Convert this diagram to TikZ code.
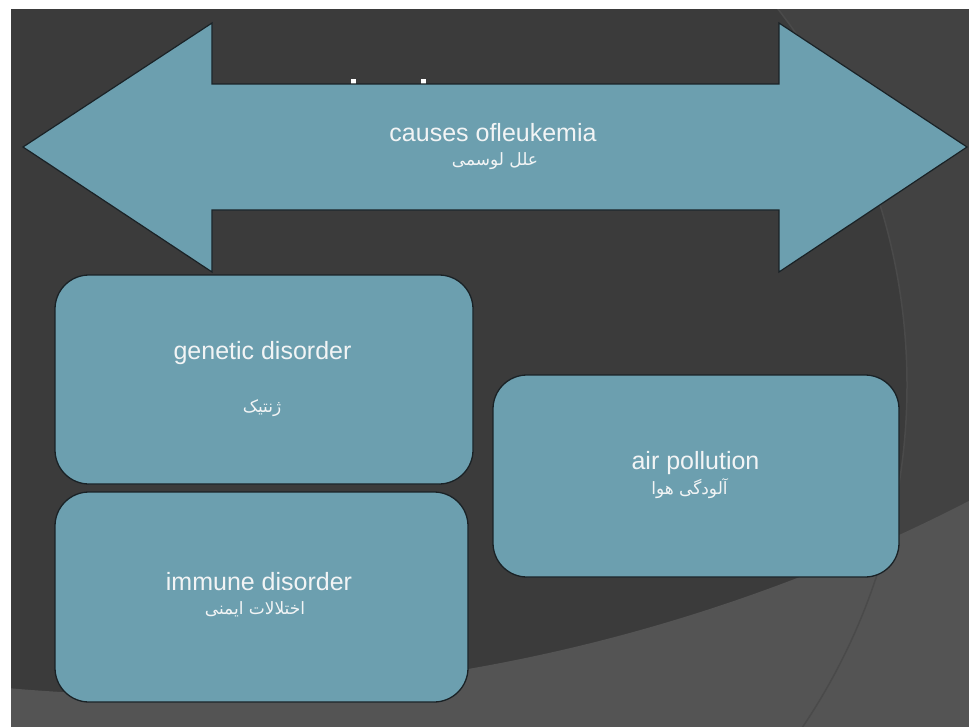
\documentclass[tikz,border=0pt]{standalone}
\usepackage{fontspec}
\setmainfont{Liberation Sans}
\newfontfamily\fafont[Script=Arabic]{DejaVu Sans}
\TeXXeTstate=1
\definecolor{bgdark}{HTML}{3B3B3B}
\definecolor{bgmid}{HTML}{424242}
\definecolor{bglight}{HTML}{545454}
\definecolor{arcline}{HTML}{4A4A4A}
\definecolor{boxteal}{HTML}{6C9FAF}
\definecolor{txtc}{HTML}{F2F4F5}
\definecolor{edgec}{HTML}{1A2226}
\begin{document}
\begin{tikzpicture}[x=1pt,y=-1pt,
  panel/.style={draw=edgec, line width=1.3pt, fill=boxteal, rounded corners=34pt, inner sep=0pt},
  bigarrow/.style={draw=edgec, line width=1.2pt, fill=boxteal},
  entxt/.style={text=txtc, font=\fontsize{25}{30}\selectfont, anchor=base, inner sep=0pt},
  fatxt/.style={text=txtc, font=\fafont\fontsize{17}{20}\selectfont, anchor=base, inner sep=0pt}]
\useasboundingbox (0,0) rectangle (969,726);
\fill[white] (-2,-2) rectangle (972,730);
\begin{scope}
  \clip (11,9) rectangle (975,732);
  \fill[bgdark] (11,9) rectangle (975,732);
  \fill[bgmid, even odd rule] (0,0) rectangle (975,732) (295,385) circle[radius=612pt];
  \fill[bglight, even odd rule] (0,0) rectangle (975,732) (165,-1064) circle[radius=1759pt];
  \draw[arcline, line width=1.5pt] (295,385) circle[radius=612pt];
\end{scope}
% fragments of hidden title
\fill[white] (351,79) rectangle (356,86);
\fill[white] (421,79) rectangle (426,86);
% double arrow
\draw[bigarrow] (23,147) -- (212,23) -- (212,84) -- (779,84) -- (779,23) -- (967,147)
  -- (779,272) -- (779,210) -- (212,210) -- (212,272) -- cycle;
\node[entxt] (arrEn) at (493,141) {causes ofleukemia};
\node[fatxt] (arrFa) at (495,165) {\beginR علل لوسمی\endR};
% boxes
\node[panel, minimum width=418pt, minimum height=209pt] (gen) at (264,379.5) {};
\node[panel, minimum width=413pt, minimum height=210pt] (imm) at (261.5,597) {};
\node[panel, minimum width=406pt, minimum height=202pt] (air) at (696,476) {};
\node[entxt] (genEn) at (262.5,359) {genetic disorder};
\node[fatxt] (genFa) at (262,412) {\beginR ژنتیک\endR};
\node[entxt] (immEn) at (259,590) {immune disorder};
\node[fatxt] (immFa) at (255,614) {\beginR اختلالات ایمنی\endR};
\node[entxt] (airEn) at (695.5,469) {air pollution};
\node[fatxt] (airFa) at (689.5,494) {\beginR آلودگی هوا\endR};
\end{tikzpicture}
\end{document}
